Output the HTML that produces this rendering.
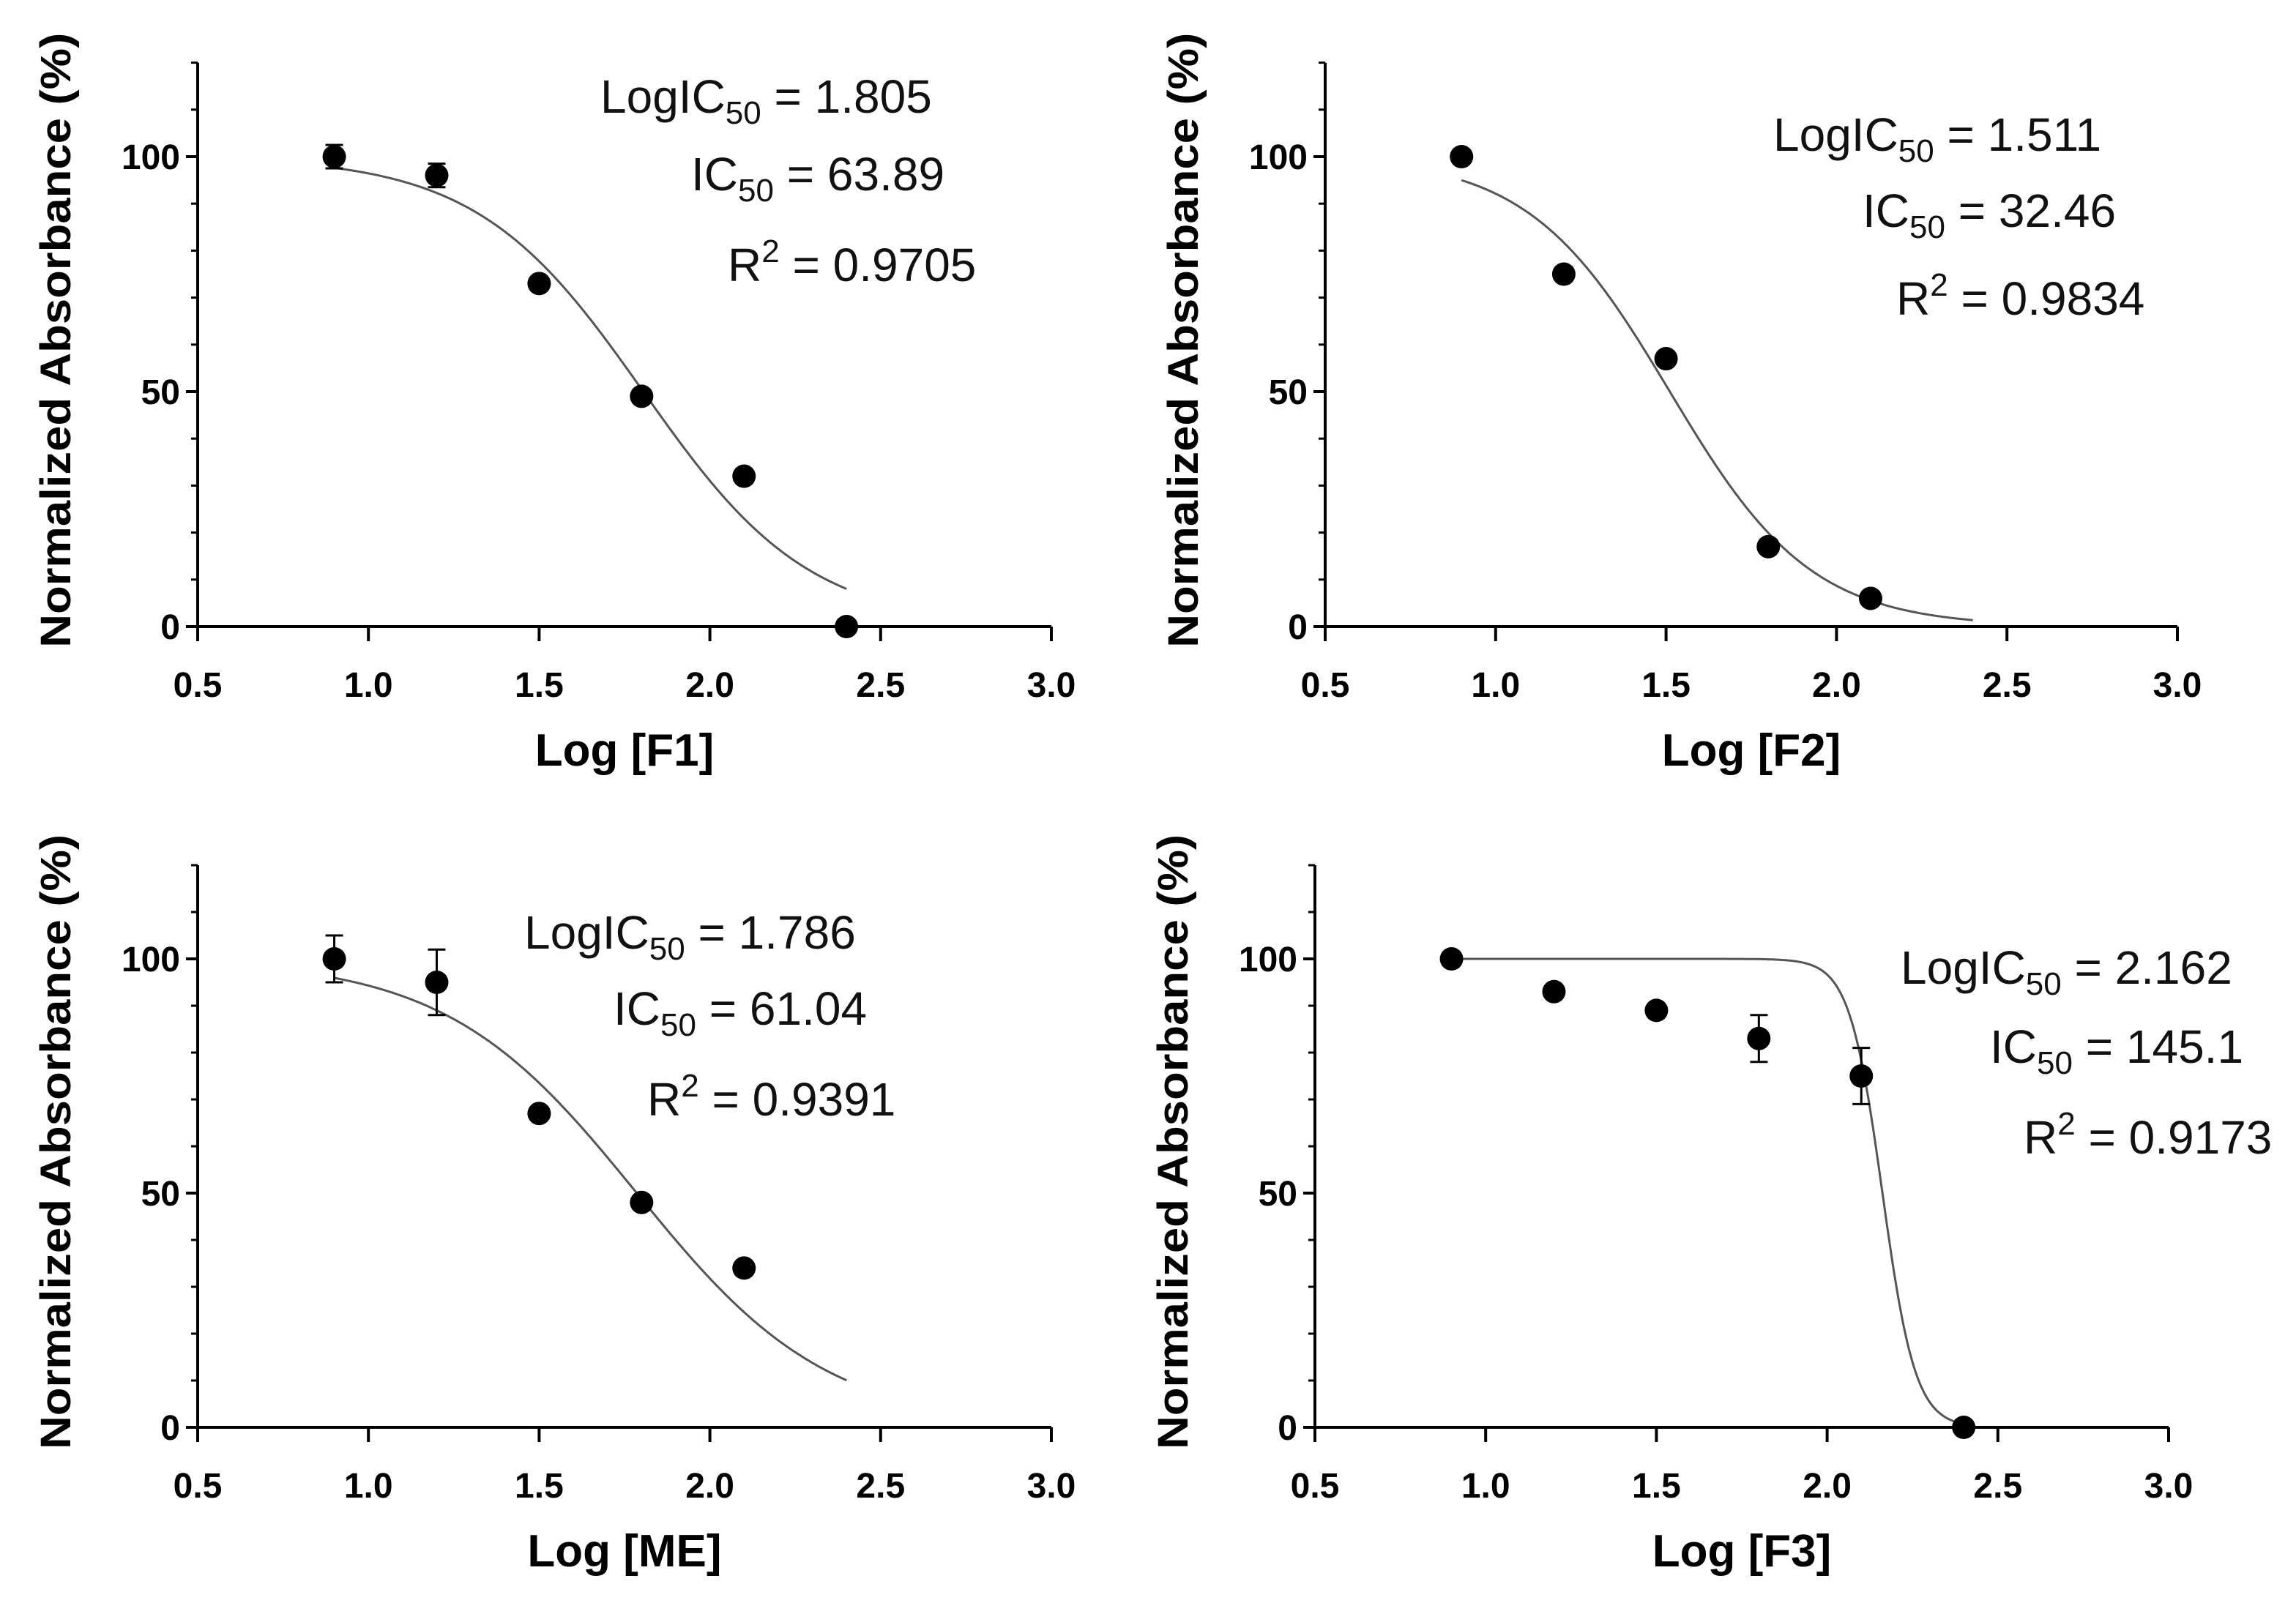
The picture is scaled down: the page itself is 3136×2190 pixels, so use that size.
<!DOCTYPE html>
<html><head><meta charset="utf-8"><style>
html,body{margin:0;padding:0;background:#fff;}
svg{display:block;font-family:"Liberation Sans",Arial,sans-serif;}
</style></head><body>
<svg id="fig" width="3136" height="2190" viewBox="0 0 3136 2190" xmlns="http://www.w3.org/2000/svg"></svg>
<script>
// ---- data ----
const xTicks = [0.5, 1.0, 1.5, 2.0, 2.5, 3.0];
const xTickLabels = ["0.5", "1.0", "1.5", "2.0", "2.5", "3.0"];
const yTicks = [0, 50, 100];
const yTickLabels = ["0", "50", "100"];

const f1X = [0.9, 1.2, 1.5, 1.8, 2.1, 2.4];
const f1Y = [100, 96, 73, 49, 32, 0];
const f1Err = [2.5, 2.5, 0, 0, 0, 0];
const f1Fit = [1.805, 1.78]; // logIC50, hill

const f2X = [0.9, 1.2, 1.5, 1.8, 2.1];
const f2Y = [100, 75, 57, 17, 6];
const f2Err = [0, 0, 0, 0, 0];
const f2Fit = [1.511, 2.09];

const meX = [0.9, 1.2, 1.5, 1.8, 2.1];
const meY = [100, 95, 67, 48, 34];
const meErr = [5, 7, 0, 0, 0];
const meFit = [1.786, 1.55];

const f3X = [0.9, 1.2, 1.5, 1.8, 2.1, 2.4];
const f3Y = [100, 93, 89, 83, 75, 0];
const f3Err = [0, 0, 0, 5, 6, 0];
const f3Fit = [2.162, 9];

const panels = [
 {id:"f1", xs:f1X, ys:f1Y, err:f1Err, fit:f1Fit, title:"Log [F1]",
  lines:[["LogIC","50"," = 1.805"],["IC","50"," = 63.89"],["R","2"," = 0.9705"]]},
 {id:"f2", xs:f2X, ys:f2Y, err:f2Err, fit:f2Fit, title:"Log [F2]",
  lines:[["LogIC","50"," = 1.511"],["IC","50"," = 32.46"],["R","2"," = 0.9834"]]},
 {id:"me", xs:meX, ys:meY, err:meErr, fit:meFit, title:"Log [ME]",
  lines:[["LogIC","50"," = 1.786"],["IC","50"," = 61.04"],["R","2"," = 0.9391"]]},
 {id:"f3", xs:f3X, ys:f3Y, err:f3Err, fit:f3Fit, title:"Log [F3]",
  lines:[["LogIC","50"," = 2.162"],["IC","50"," = 145.1"],["R","2"," = 0.9173"]]}
];
// layout (pixels)
const layout = [
 {x0:270, x1:1436, y0:856, y100:214, tx:[820,944,994], ty:[154,260,384]},
 {x0:1810, x1:2974, y0:856, y100:214, tx:[2422,2544,2590], ty:[206,310,430]},
 {x0:270, x1:1436, y0:1950, y100:1310, tx:[716,838,884], ty:[1296,1400,1524]},
 {x0:1796, x1:2962, y0:1950, y100:1310, tx:[2596,2718,2764], ty:[1344,1452,1576]}
];
const NS="http://www.w3.org/2000/svg";
const svg=document.getElementById('fig');
function mk(tag, attrs, parent){const e=document.createElementNS(NS,tag);for(const k in attrs)e.setAttribute(k,attrs[k]);(parent||svg).appendChild(e);return e;}

panels.forEach((p,i)=>{
 const L=layout[i];
 const g=mk('g',{});
 
 
 const sx=v=>L.x0+(v-0.5)/(3.0-0.5)*(L.x1-L.x0);
 const sy=v=>L.y0-(v/100)*(L.y0-L.y100);
 // axes
 const ya=mk('line',{x1:L.x0,y1:sy(120),x2:L.x0,y2:L.y0,stroke:'#000','stroke-width':4},g);
 
 
 const xa=mk('line',{x1:L.x0-2,y1:L.y0,x2:L.x1,y2:L.y0,stroke:'#000','stroke-width':4},g);
 
 
 for(let v=0;v<=120;v+=10){
  const major=v%50===0;
  mk('line',{x1:L.x0-(major?16:9),y1:sy(v),x2:L.x0,y2:sy(v),stroke:'#000','stroke-width':major?4:3},g);
 }
 yTicks.forEach((v,k)=>{
  const t=mk('text',{x:L.x0-24,y:sy(v)+17,'text-anchor':'end','font-size':48,'font-weight':'bold'},g);
  t.textContent=yTickLabels[k];
  
  
 });
 xTicks.forEach((v,k)=>{
  mk('line',{x1:sx(v),y1:L.y0,x2:sx(v),y2:L.y0+20,stroke:'#000','stroke-width':4},g);
  const t=mk('text',{x:sx(v),y:L.y0+96,'text-anchor':'middle','font-size':48,'font-weight':'bold'},g);
  t.textContent=xTickLabels[k];
  
  
 });
 const xt=mk('text',{x:(L.x0+L.x1)/2,y:L.y0+190,'text-anchor':'middle','font-size':62,'font-weight':'bold'},g);
 xt.textContent=p.title;
 
 
 const ycx=L.x0-174, ycy=(sy(120)+L.y0)/2-6;
 const yt=mk('text',{x:ycx,y:ycy,'text-anchor':'middle','font-size':58,'font-weight':'bold',textLength:840,lengthAdjust:'spacingAndGlyphs',transform:`rotate(-90 ${ycx} ${ycy})`},g);
 yt.textContent='Normalized Absorbance (%)';
 
 
 // fit curve
 let d='';
 for(let k=0;k<=300;k++){
  const x=0.9+(2.4-0.9)*k/300;
  const y=100/(1+Math.pow(10,(x-p.fit[0])*p.fit[1]));
  d+=(k?'L':'M')+sx(x).toFixed(1)+','+sy(y).toFixed(1);
 }
 const c=mk('path',{d:d,fill:'none',stroke:'#555','stroke-width':3},g);
 
 
 // points
 p.xs.forEach((x,k)=>{
  const e=p.err[k];
  if(e>0){
   const eb=mk('path',{d:`M${sx(x)},${sy(p.ys[k]+e)}V${sy(p.ys[k]-e)}M${sx(x)-12},${sy(p.ys[k]+e)}h24M${sx(x)-12},${sy(p.ys[k]-e)}h24`,stroke:'#000','stroke-width':3,fill:'none'},g);
   
   
  }
  const pt=mk('circle',{cx:sx(x),cy:sy(p.ys[k]),r:16,fill:'#000'},g);
  
  
 });
 // annotations
 p.lines.forEach((ln,k)=>{
  const t=mk('text',{x:L.tx[k],y:L.ty[k],'font-size':64,fill:'#111'},g);
  
  
  const a=mk('tspan',{},t);a.textContent=ln[0];
  const sub=k<2;
  const b=mk('tspan',{'font-size':44,dy:sub?15:-26},t);b.textContent=ln[1];
  const cc=mk('tspan',{dy:sub?-15:26},t);cc.textContent=ln[2];
 });
});
</script>
</body></html>
